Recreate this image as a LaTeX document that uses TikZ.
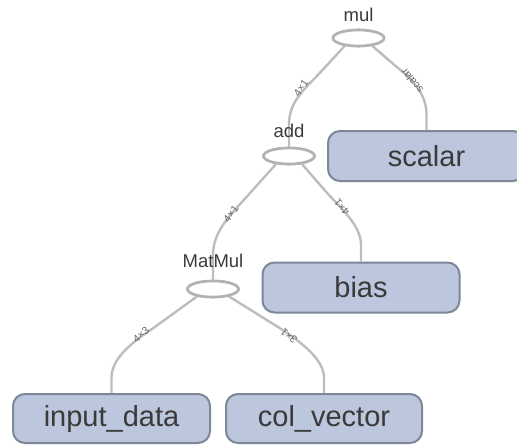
\documentclass[tikz,border=0pt]{standalone}
\usepackage{fontspec}
\setmainfont{Liberation Sans}
\usetikzlibrary{shapes.geometric}

\definecolor{opfill}{HTML}{BCC6DD}
\definecolor{opdraw}{HTML}{7D8799}
\definecolor{edgegray}{HTML}{BDBDBD}
\definecolor{ellgray}{HTML}{B2B2B2}
\definecolor{txt}{HTML}{3A3A3A}
\definecolor{elabtxt}{HTML}{666666}

\tikzset{
  varbox/.style={rectangle, rounded corners=12pt, draw=opdraw, fill=opfill,
    line width=2pt, minimum width=197pt, minimum height=50pt, inner sep=0pt,
    text=txt, font=\fontsize{29}{30}\selectfont},
  opnode/.style={ellipse, draw=ellgray, fill=white, line width=2.6pt,
    minimum width=51pt, minimum height=16pt, inner sep=0pt},
  oplabel/.style={text=txt, font=\fontsize{18.5}{20}\selectfont, inner sep=0pt},
  edge/.style={draw=edgegray, line width=2.4pt},
  elabel/.style={text=elabtxt, font=\fontsize{10.5}{11}\selectfont, inner sep=0pt}
}

\begin{document}
\begin{tikzpicture}[x=1pt, y=-1pt]
\useasboundingbox (0,0) rectangle (517,445);
\clip (0,0) rectangle (517,445);

% operation nodes
\node[opnode] (mul) at (358.5,38) {};
\node[opnode] (add) at (289,156) {};
\node[opnode] (matmul) at (213,289) {};

% tensor nodes
\node[varbox] (scalar) at (426.5,156) {scalar};
\node[varbox] (bias) at (361,287.5) {bias};
\node[varbox, minimum height=49pt] (inputdata) at (111.5,418.5) {input\_data};
\node[varbox, minimum height=49pt, minimum width=196pt] (colvector) at (324,418.5) {col\_vector};

% data-flow edges
\draw[edge] (mul.210) -- (316,77) .. controls (298,95) and (add.north |- 0,106) .. (add.north |- 0,125) -- (add.north);
\draw[edge] (mul.330) -- (398,68) .. controls (418,84) and (scalar.north |- 0,98) .. (scalar.north |- 0,115) -- (scalar.north);
\draw[edge] (add.212) -- (242,202) .. controls (224,221) and (matmul.north |- 0,236) .. (matmul.north |- 0,255) -- (matmul.north);
\draw[edge] (add.328) -- (328,194) .. controls (347,214) and (bias.north |- 0,228) .. (bias.north |- 0,245) -- (bias.north);
\draw[edge] (matmul.205) -- (152,329) .. controls (128,345) and (inputdata.north |- 0,360) .. (inputdata.north |- 0,378) -- (inputdata.north);
\draw[edge] (matmul.335) -- (278,327) .. controls (303,343) and (colvector.north |- 0,360) .. (colvector.north |- 0,378) -- (colvector.north);

% redraw operation ellipses above the edge ends
\node[opnode] at (mul) {};
\node[opnode] at (add) {};
\node[opnode] at (matmul) {};

% operation names
\node[oplabel] (mullab) at (358.5,15) {mul};
\node[oplabel] (addlab) at (289,131) {add};
\node[oplabel] (matmullab) at (213,261) {MatMul};

% tensor shape labels on the edges
\node[elabel, rotate=55] (e1) at (301,88) {4×1};
\node[elabel, rotate=130] (e2) at (412,81) {scalar};
\node[elabel, rotate=52] (e3) at (231,214) {4×1};
\node[elabel, rotate=130] (e4) at (342,207) {4×1};
\node[elabel, rotate=40] (e5) at (141,335) {4×3};
\node[elabel, rotate=140] (e6) at (289,336) {3×1};
\end{tikzpicture}
\end{document}
